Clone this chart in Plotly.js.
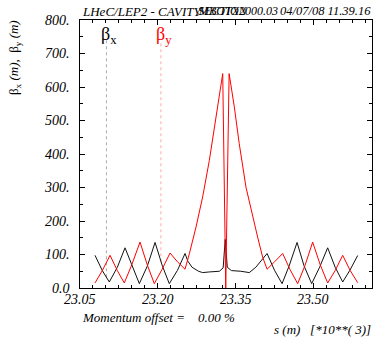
<!DOCTYPE html>
<html>
<head>
<meta charset="utf-8">
<script src="https://cdn.plot.ly/plotly-3.0.1.min.js"></script>
<style>
html,body{margin:0;padding:0;background:#fff;}
#chart{width:373px;height:340px;}
</style>
</head>
<body>
<div id="chart"></div>
<script>
// s positions (units of 10^3 m) and beta values (m)
const sBetaX = [23.0789,23.093,23.1065,23.122,23.1368,23.151,23.1644,23.180,23.1947,23.209,23.2222,23.238,23.2525,23.258,23.266,23.2785,23.2865,23.300,23.3187,23.326,23.3300,23.3340,23.342,23.360,23.3765,23.389,23.402,23.4107,23.425,23.4396,23.453,23.4685,23.482,23.4967,23.512,23.5275,23.542,23.5565,23.570,23.5854];
const betaX  = [97.6,52,18,62,120,62,13,66,136,65,13,53,103,80,62,50,46,48,50,60,145,62,52,50,46,62,85,103,53,13,65,136,66,13,62,120,62,18,52,97];
const sBetaY = [23.0789,23.093,23.1079,23.122,23.1354,23.150,23.1657,23.180,23.1933,23.208,23.2236,23.238,23.2525,23.2608,23.2737,23.2865,23.2994,23.309,23.3187,23.3252,23.3310,23.3375,23.3476,23.357,23.370,23.3798,23.3925,23.4022,23.4107,23.425,23.4408,23.455,23.4697,23.484,23.4986,23.513,23.5275,23.542,23.5565,23.571,23.5854];
const betaY  = [15,52,97.6,52,15,70,137,68,13,55,104.5,78,56,102,182,272,381,480,580,640,0,640,540,431,301,232,152,92,56,78,103,55,13,68,137,70,15,52,97.6,52,16];
// legend marker lines
const markerS = [23.101, 23.206];
const markerLow = [32, 77];
const markerHigh = [739, 734];
// ticks
const yTickVals = [0,100,200,300,400,500,600,700,800];
const yTickText = ['0.0','100.','200.','300.','400.','500.','600.','700.','800.'];
const xTickVals = [23.05,23.20,23.35,23.50];
const xTickText = ['23.05','23.20','23.35','23.50'];

const serif = '"Liberation Serif", "Times New Roman", serif';
const W = 373, H = 340, L = 80, R = 1, T = 20, B = 52;
const pw = W - L - R, ph = H - T - B;
const px = v => (v - L) / pw;
const py = v => (H - B - v) / ph;
const ital = s => '<i>' + s + '</i>';
const tf = {family:serif, size:14, color:'#000'};

const traces = [
  {x:[markerS[0],markerS[0]], y:[markerLow[0],markerHigh[0]], mode:'lines', line:{color:'#aaaaaa',width:1,dash:'dot'}, hoverinfo:'skip'},
  {x:[markerS[1],markerS[1]], y:[markerLow[1],markerHigh[1]], mode:'lines', line:{color:'#ffaaaa',width:1,dash:'dot'}, hoverinfo:'skip'},
  {x:sBetaX, y:betaX, mode:'lines', line:{color:'#111111',width:1}},
  {x:sBetaY, y:betaY, mode:'lines', line:{color:'#ff0000',width:1}}
];

function axisCommon() {
  return {
    showgrid:false, zeroline:false, showline:true, linecolor:'#000', linewidth:1,
    mirror:'allticks', ticks:'inside', ticklen:5, tickcolor:'#000', tickwidth:1,
    showticklabels:false
  };
}

// tick labels placed through the axes' own scales
const xLabels = xTickVals.map((v,i) => ({xref:'x', yref:'paper', x:v, y:py(290), xanchor:'center', yanchor:'top',
  showarrow:false, text:ital(xTickText[i]), font:tf}));
const yLabels = yTickVals.map((v,i) => ({xref:'paper', yref:'y', x:px(72), y:v, xanchor:'right', yanchor:'middle',
  showarrow:false, text:ital(yTickText[i]), font:tf}));

const layout = {
  width:W, height:H, margin:{l:L, r:R, t:T, b:B},
  font:{family:serif, color:'#000'},
  paper_bgcolor:'#fff', plot_bgcolor:'#fff', showlegend:false,
  xaxis: Object.assign(axisCommon(), {
    range:[23.05, 23.613], tickmode:'array', tickvals:xTickVals,
    minor:{dtick:0.025, tick0:23.05, ticks:'inside', ticklen:3, tickcolor:'#000'}
  }),
  yaxis: Object.assign(axisCommon(), {
    range:[0, 800], tickmode:'array', tickvals:yTickVals,
    minor:{dtick:50, tick0:0, ticks:'inside', ticklen:3, tickcolor:'#000'}
  }),
  annotations: xLabels.concat(yLabels, [
    {xref:'paper', yref:'paper', x:px(80), y:py(11), xanchor:'left', yanchor:'middle', showarrow:false,
     text:ital('LHeC/LEP2 - CAVITY'), font:{family:serif, size:13, color:'#000'}},
    {xref:'paper', yref:'paper', x:px(196), y:py(11), xanchor:'left', yanchor:'middle', showarrow:false,
     text:ital('SECTION'), font:{family:serif, size:12, color:'#000'}},
    {xref:'paper', yref:'paper', x:px(196), y:py(11), xanchor:'left', yanchor:'middle', showarrow:false,
     text:ital('MBOTX2000.03'), font:{family:serif, size:12, color:'#000'}},
    {xref:'paper', yref:'paper', x:px(373), y:py(11), xanchor:'right', yanchor:'middle', showarrow:false,
     text:ital('04/07/08 11.39.16'), font:{family:serif, size:12.5, color:'#000'}},
    {xref:'paper', yref:'paper', x:px(99), y:py(35), xanchor:'left', yanchor:'middle', showarrow:false,
     text:'β<sub>x</sub>', font:{family:serif, size:18, color:'#000'}},
    {xref:'paper', yref:'paper', x:px(154), y:py(35), xanchor:'left', yanchor:'middle', showarrow:false,
     text:'β<sub>y</sub>', font:{family:serif, size:18, color:'#ff0000'}},
    {xref:'paper', yref:'paper', x:px(15), y:py(58), xanchor:'center', yanchor:'middle', showarrow:false, textangle:-90,
     text:'β<sub>x</sub> <i>(m),</i>  β<sub>y</sub> <i>(m)</i>', font:{family:serif, size:13, color:'#000'}},
    {xref:'paper', yref:'paper', x:px(80), y:py(317), xanchor:'left', yanchor:'middle', showarrow:false,
     text:ital('Momentum offset =    0.00 %'), font:{family:serif, size:13, color:'#000'}},
    {xref:'paper', yref:'paper', x:px(373), y:py(329), xanchor:'right', yanchor:'middle', showarrow:false,
     text:ital('s (m)   [*10**( 3)]'), font:{family:serif, size:13, color:'#000'}}
  ])
};

Plotly.newPlot('chart', traces, layout, {displayModeBar:false, staticPlot:true});
</script>
</body>
</html>
